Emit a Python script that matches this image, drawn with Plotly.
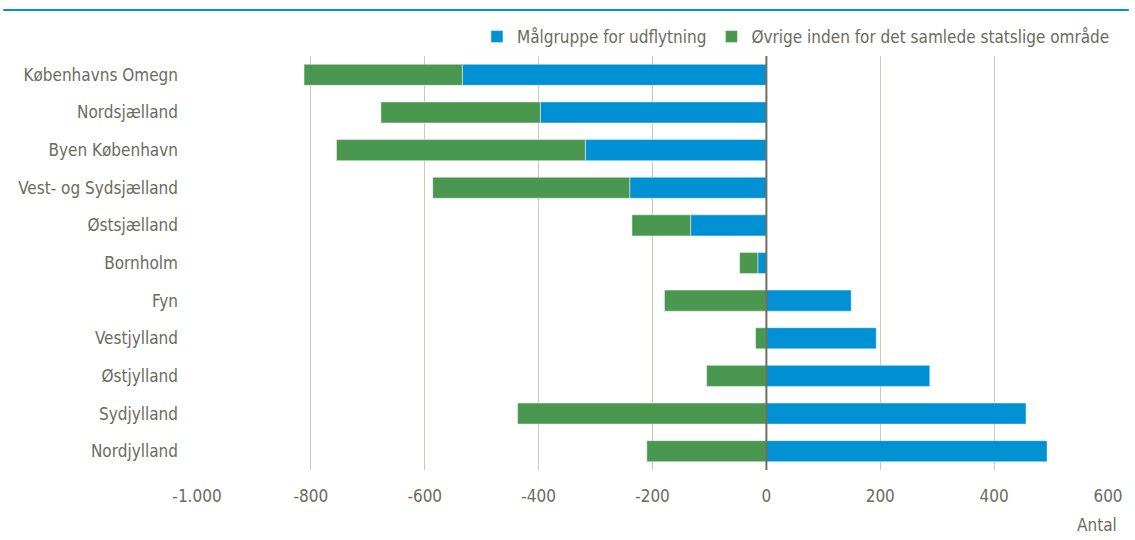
import plotly.graph_objects as go

##############################################################
# Data
##############################################################

regions = [
    "Københavns Omegn",
    "Nordsjælland",
    "Byen København",
    "Vest- og Sydsjælland",
    "Østsjælland",
    "Bornholm",
    "Fyn",
    "Vestjylland",
    "Østjylland",
    "Sydjylland",
    "Nordjylland",
]

malgruppe = [-534, -397, -318, -240, -133, -15, 149, 193, 287, 456, 493]

ovrige = [-278, -280, -437, -346, -103, -32, -179, -19, -105, -437, -210]

tick_vals = [-1000, -800, -600, -400, -200, 0, 200, 400, 600]
tick_text = ["-1.000", "-800", "-600", "-400", "-200", "0", "200", "400", "600"]

##############################################################
# Figure
##############################################################

FONT = "DejaVu Sans Condensed, Liberation Sans Narrow, Arial Narrow, Roboto, sans-serif"
TXT = "#6b6b5e"
FS = 17

fig = go.Figure()

fig.add_trace(go.Bar(
    y=regions,
    x=malgruppe,
    name="Målgruppe for udflytning",
    orientation="h",
    marker=dict(color="#0091d5", line=dict(color="rgba(255,255,255,0.45)", width=1)),
))

fig.add_trace(go.Bar(
    y=regions,
    x=ovrige,
    name="Øvrige inden for det samlede statslige område",
    orientation="h",
    marker=dict(color="#4a9850", line=dict(color="rgba(255,255,255,0.45)", width=1)),
))

L, R, T, B = 197, 21, 56, 70
W, H = 1135, 540
pw = W - L - R
ph = H - T - B

fig.update_layout(
    width=W,
    height=H,
    barmode="relative",
    bargap=0.44,
    plot_bgcolor="white",
    paper_bgcolor="white",
    margin=dict(l=L, r=R, t=T, b=B),
    font=dict(family=FONT, size=FS, color=TXT),
    legend=dict(
        orientation="h",
        x=1 + 7 / pw,
        xanchor="right",
        y=1 + (T - 37) / ph,
        yanchor="middle",
        font=dict(size=FS, color=TXT),
        traceorder="normal",
        itemwidth=30,
    ),
    showlegend=True,
)

fig.update_xaxes(
    range=[-1000, 600],
    tickvals=tick_vals,
    ticktext=tick_text,
    showgrid=True,
    gridcolor="#c9c9c0",
    gridwidth=1,
    zeroline=False,
    showline=False,
    ticks="",
    ticklabelstandoff=14,
    tickfont=dict(size=FS, color=TXT),
)

fig.update_yaxes(
    autorange="reversed",
    showgrid=False,
    zeroline=False,
    ticks="",
    ticklabelstandoff=18,
    tickfont=dict(size=FS, color=TXT),
)

# zero line drawn above bars
fig.add_shape(
    type="line", xref="x", yref="paper",
    x0=0, x1=0, y0=0, y1=1,
    line=dict(color="#6f6f5f", width=2),
    layer="above",
)

# top rule
fig.add_shape(
    type="line", xref="paper", yref="paper",
    x0=(2 - L) / pw, x1=(W - L) / pw,
    y0=1 + (T - 10) / ph, y1=1 + (T - 10) / ph,
    line=dict(color="#0091d5", width=2),
)

fig.add_annotation(
    text="Antal",
    xref="paper", yref="paper",
    x=(1125 - L) / pw, y=-(525 - (H - B)) / ph,
    xanchor="right", yanchor="middle",
    showarrow=False,
    font=dict(size=FS, color=TXT),
)

fig.write_html(
    "out.html",
    config={"displayModeBar": False},
    post_script="document.body.style.margin='0';",
)
